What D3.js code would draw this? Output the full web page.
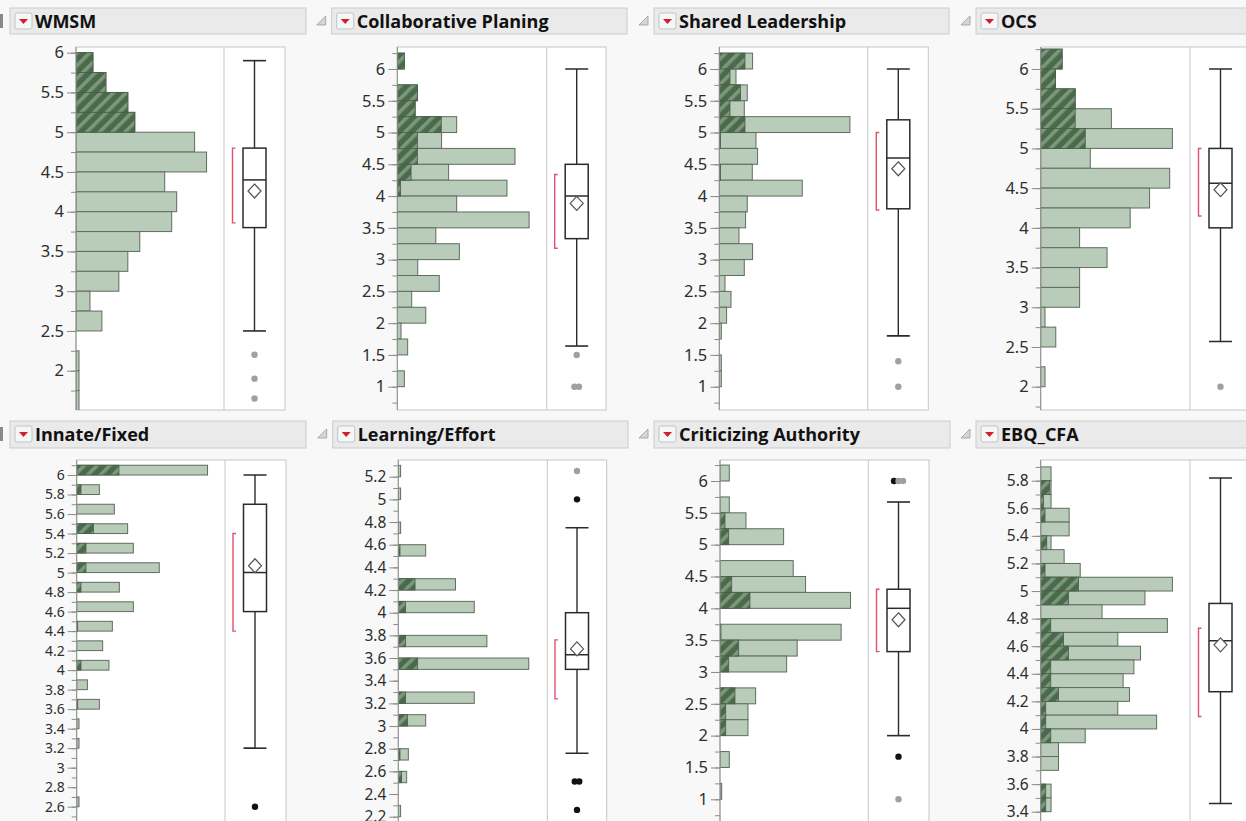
<!DOCTYPE html>
<html><head><meta charset="utf-8">
<script src="https://cdn.jsdelivr.net/npm/d3@7"></script>
<style>
html,body{margin:0;padding:0;background:#f8f8f8;}
svg{display:block}
</style></head><body>
<svg id="chart" width="1246" height="821"></svg>
<script>
// ---------------- DATA ----------------
const titles = ["WMSM", "Collaborative Planing", "Shared Leadership", "OCS",
                "Innate/Fixed", "Learning/Effort", "Criticizing Authority", "EBQ_CFA"];
const binWidths = [0.25, 0.25, 0.25, 0.25, 0.1, 0.1, 0.25, 0.1];

// WMSM
const wmsmBins = [5.75,5.5,5.25,5.0,4.75,4.5,4.25,4.0,3.75,3.5,3.25,3.0,2.75,2.5,2.25,2.0,1.75,1.5];
const wmsmCounts = [17,30,52,59,119,131,89,101,96,64,52,43,14,26,0,3,3,3];
const wmsmSelected = [17,30,52,59,0,0,0,0,0,0,0,0,0,0,0,0,0,0];
const wmsmBox = [2.5, 3.8, 4.4, 4.8, 5.9];
const wmsmMean = 4.26;
const wmsmShortest = [3.86, 4.8];
const wmsmOutliers = [2.2, 1.9, 1.65];
const wmsmOutlierSel = [0, 0, 0];
const wmsmTicks = [6,5.5,5,4.5,4,3.5,3,2.5,2];

// Collaborative Planing
const cpBins = [6.0,5.75,5.5,5.25,5.0,4.75,4.5,4.25,4.0,3.75,3.5,3.25,3.0,2.75,2.5,2.25,2.0,1.75,1.5,1.25,1.0];
const cpCounts = [7,0,20,17.7,59,44,117,51,109,59,131,38.3,61.7,20.3,41.7,14.3,28.3,3.7,10.3,0,7];
const cpSelected = [7,0,20,17.7,43.7,20,20,13.7,3.3,0,0,0,0,0,0,0,0,0,0,0,0];
const cpBox = [1.64, 3.33, 4.0, 4.5, 6.0];
const cpMean = 3.885;
const cpShortest = [3.18, 4.34];
const cpOutliers = [1.5, 1.0, 1.0];
const cpOutlierSel = [0, 0, 0];
const cpTicks = [6,5.5,5,4.5,4,3.5,3,2.5,2,1.5,1];

// Shared Leadership
const slBins = [6.0,5.75,5.5,5.25,5.0,4.75,4.5,4.25,4.0,3.75,3.5,3.25,3.0,2.75,2.5,2.25,2.0,1.75,1.5,1.25,1.0];
const slCounts = [33.3,16.7,28,25,130.7,36.7,38.3,33,83,28,26.3,19.7,33.3,25,5.7,11.7,7.3,2,0,2,2];
const slSelected = [25.7,10.7,21.3,10.7,25.7,1.3,0,1.3,0,0,0,0,0,0,0,0,0,0,0,0,0];
const slBox = [1.8, 3.8, 4.6, 5.2, 6.0];
const slMean = 4.43;
const slShortest = [3.78, 5.0];
const slOutliers = [1.4, 1.0];
const slOutlierSel = [0, 0];
const slTicks = [6,5.5,5,4.5,4,3.5,3,2.5,2,1.5,1];

// OCS
const ocsBins = [6.0,5.75,5.5,5.25,5.0,4.75,4.5,4.25,4.0,3.75,3.5,3.25,3.0,2.75,2.5,2.25,2.0];
const ocsCounts = [21.3,14.7,34.3,70.3,131,49.3,128.3,108.3,89,38.7,66,38.7,38.7,4.3,15,0,4.3];
const ocsSelected = [21.3,14.7,34.3,34.3,44.3,0,0,0,0,0,0,0,0,0,0,0,0];
const ocsBox = [2.57, 4.0, 4.56, 5.0, 6.0];
const ocsMean = 4.48;
const ocsShortest = [4.15, 5.0];
const ocsOutliers = [2.0];
const ocsOutlierSel = [0];
const ocsTicks = [6,5.5,5,4.5,4,3.5,3,2.5,2];

// Innate/Fixed
const ifBins = [6.0,5.8,5.6,5.4,5.2,5.0,4.8,4.6,4.4,4.2,4.0,3.8,3.6,3.4,3.2,2.6];
const ifCounts = [131,22.7,37.7,51,56.7,82.7,42.7,56.7,35.7,26,32.3,10.7,22.7,2.3,2.3,2.3];
const ifSelected = [42.3,4.3,0,16.7,9.3,9.3,4.3,0,1,0,4.3,0,1,0,0,0];
const ifBox = [3.2, 4.6, 5.0, 5.7, 6.0];
const ifMean = 5.07;
const ifShortest = [4.4, 5.4];
const ifOutliers = [2.6];
const ifOutlierSel = [1];
const ifTicks = [6,5.8,5.6,5.4,5.2,5,4.8,4.6,4.4,4.2,4,3.8,3.6,3.4,3.2,3,2.8,2.6];

// Learning/Effort
const leBins = [5.2,5.0,4.7,4.5,4.2,4.0,3.7,3.5,3.2,3.0,2.7,2.5,2.2];
const leCounts = [2.3,2.3,2.3,27.3,57,75.7,88.3,130,75.7,27.3,10,8.3,2.3];
const leSelected = [0,0,0,1.7,16.7,7.3,7.3,19.3,7.3,9.3,1.7,3.3,0];
const leBox = [2.76, 3.5, 3.63, 4.0, 4.75];
const leMean = 3.68;
const leShortest = [3.24, 3.76];
const leOutliers = [5.25, 5.0, 2.51, 2.51, 2.26];
const leOutlierSel = [0, 1, 1, 1, 1];
const leTicks = [5.2,5,4.8,4.6,4.4,4.2,4,3.8,3.6,3.4,3.2,3,2.8,2.6,2.4,2.2];

// Criticizing Authority
const caBins = [6.0,5.75,5.5,5.25,5.0,4.75,4.5,4.25,4.0,3.75,3.5,3.25,3.0,2.75,2.5,2.25,2.0,1.75,1.5,1.25,1.0];
const caCounts = [9.3,0,9.3,26,63.7,0,73.3,85.7,130.7,0,121.3,77.3,66.7,0,35.7,28,28,0,9.3,0,1.7];
const caSelected = [0,0,0,5,8.7,0,0,11.7,30,0,1,18.7,8.7,0,15,5.7,5.7,0,0,0,0];
const caBox = [2.0, 3.32, 4.0, 4.3, 5.67];
const caMean = 3.82;
const caShortest = [3.32, 4.3];
const caOutliers = [6.0, 6.0, 6.0, 1.67, 1.0];
const caOutlierSel = [1, 0, 0, 1, 0];
const caTicks = [6,5.5,5,4.5,4,3.5,3,2.5,2,1.5,1];

// EBQ_CFA
const ebqBins = [5.8,5.7,5.6,5.5,5.4,5.3,5.2,5.1,5.0,4.9,4.8,4.7,4.6,4.5,4.4,4.3,4.2,4.1,4.0,3.9,3.8,3.7,3.6,3.5,3.4];
const ebqCounts = [10.3,10.3,10.3,28.3,28.3,10.3,23.3,39.3,131,103.7,61,126,76.7,99.3,92.7,82,88.3,76.7,115.3,44.3,17.7,17.7,0,10.3,10.3];
const ebqSelected = [0,9,2.7,4.3,0,6,0,4.3,37.7,27.7,0,10,22.7,27.7,10,10,17.7,5,5,10,0,0,0,5,5];
const ebqBox = [3.46, 4.27, 4.64, 4.91, 5.82];
const ebqMean = 4.61;
const ebqShortest = [4.09, 4.73];
const ebqOutliers = [];
const ebqOutlierSel = [];
const ebqTicks = [5.8,5.6,5.4,5.2,5,4.8,4.6,4.4,4.2,4,3.8,3.6,3.4];

const countMax = 148.5;

// ---------------- LAYOUT ----------------
const rows = [
  {titleY: 8, titleH: 26, top: 47, bottom: 410},
  {titleY: 421, titleH: 27, top: 460, bottom: 840}
];
const layouts = [
  {row:0, axisX:76,    sepX:224,   rightX:285,  boxX:254.5,  tX0:10,    tX1:306,  disc:false, yA:[6,52.7],  yB:[2,370.7], minor:0.25, fs:16.5},
  {row:0, axisX:397.3, sepX:546.7, rightX:606,  boxX:576.7,  tX0:331.7, tX1:627,  disc:true,  yA:[6,69],    yB:[1,386.7], minor:0.25, fs:16.5},
  {row:0, axisX:719.3, sepX:867.7, rightX:928.3,boxX:898.3,  tX0:654,   tX1:949,  disc:true,  yA:[6,69],    yB:[1,386.7], minor:0.25, fs:16.5},
  {row:0, axisX:1040.7,sepX:1190,  rightX:1252, boxX:1220.5, tX0:976,   tX1:1252, disc:true,  yA:[6,69],    yB:[2,386.7], minor:0.25, fs:16.5},
  {row:1, axisX:76.7,  sepX:225,   rightX:286,  boxX:255,    tX0:10,    tX1:306,  disc:false, yA:[6,475],   yB:[2.6,806.7], minor:0.1, fs:14},
  {row:1, axisX:398.3, sepX:547.3, rightX:606.7,boxX:577,    tX0:332.7, tX1:628,  disc:true,  yA:[5.2,476.7], yB:[2.2,816.7], minor:0.1, fs:15.5},
  {row:1, axisX:720,   sepX:868.3, rightX:929,  boxX:898.5,  tX0:654,   tX1:950,  disc:true,  yA:[6,481],   yB:[1,799.3], minor:0.25, fs:16.5},
  {row:1, axisX:1040.7,sepX:1190,  rightX:1252, boxX:1220.5, tX0:976,   tX1:1252, disc:true,  yA:[5.8,480.7], yB:[3.4,811.7], minor:0.1, fs:15.5}
];

const panels = [
  {bins:wmsmBins, counts:wmsmCounts, sel:wmsmSelected, box:wmsmBox, mean:wmsmMean, sh:wmsmShortest, out:wmsmOutliers, outSel:wmsmOutlierSel, ticks:wmsmTicks},
  {bins:cpBins, counts:cpCounts, sel:cpSelected, box:cpBox, mean:cpMean, sh:cpShortest, out:cpOutliers, outSel:cpOutlierSel, ticks:cpTicks},
  {bins:slBins, counts:slCounts, sel:slSelected, box:slBox, mean:slMean, sh:slShortest, out:slOutliers, outSel:slOutlierSel, ticks:slTicks},
  {bins:ocsBins, counts:ocsCounts, sel:ocsSelected, box:ocsBox, mean:ocsMean, sh:ocsShortest, out:ocsOutliers, outSel:ocsOutlierSel, ticks:ocsTicks},
  {bins:ifBins, counts:ifCounts, sel:ifSelected, box:ifBox, mean:ifMean, sh:ifShortest, out:ifOutliers, outSel:ifOutlierSel, ticks:ifTicks},
  {bins:leBins, counts:leCounts, sel:leSelected, box:leBox, mean:leMean, sh:leShortest, out:leOutliers, outSel:leOutlierSel, ticks:leTicks},
  {bins:caBins, counts:caCounts, sel:caSelected, box:caBox, mean:caMean, sh:caShortest, out:caOutliers, outSel:caOutlierSel, ticks:caTicks},
  {bins:ebqBins, counts:ebqCounts, sel:ebqSelected, box:ebqBox, mean:ebqMean, sh:ebqShortest, out:ebqOutliers, outSel:ebqOutlierSel, ticks:ebqTicks}
];

// ---------------- DRAW ----------------
const svg = d3.select("#chart");
const defs = svg.append("defs");
const pat = defs.append("pattern").attr("id", "hatch")
  .attr("patternUnits", "userSpaceOnUse").attr("width", 9).attr("height", 9)
  .attr("patternTransform", "rotate(45)");
pat.append("rect").attr("width", 9).attr("height", 9).attr("fill", "#4b6a4b");
pat.append("rect").attr("width", 3.6).attr("height", 9).attr("fill", "#7b987b");

const LIGHT = "#b9cbb9", BAR_STROKE = "#5f6d5f";

panels.forEach((p, i) => {
  const L = layouts[i], R = rows[L.row];
  const g = svg.append("g");

  // header bar
  if (!L.disc) {
    g.append("rect").attr("x", 0).attr("y", R.titleY + 6).attr("width", 3).attr("height", 14).attr("fill", "#8a8a8a");
  } else {
    const dx = L.tX0 - 15, dy = R.titleY + 8;
    g.append("path").attr("d", `M${dx+9},${dy} L${dx+9},${dy+9} L${dx},${dy+9} Z`)
      .attr("fill", "#d6d6d6").attr("stroke", "#9a9a9a").attr("stroke-width", 0.8);
  }
  g.append("rect").attr("x", L.tX0).attr("y", R.titleY).attr("width", L.tX1 - L.tX0).attr("height", R.titleH)
    .attr("fill", "#eaeaea").attr("stroke", "#cbcbcb");
  const ix = L.tX0 + 5, iy = R.titleY + 5;
  g.append("rect").attr("x", ix).attr("y", iy).attr("width", 17).attr("height", 16).attr("rx", 2)
    .attr("fill", "#f6f6f6").attr("stroke", "#b9c6cf");
  g.append("path").attr("d", `M${ix+4},${iy+6} L${ix+13},${iy+6} L${ix+8.5},${iy+11} Z`).attr("fill", "#d1202b");
  g.append("text").attr("x", L.tX0 + 25).attr("y", R.titleY + R.titleH / 2 + 6.5)
    .attr("font-family", "'Open Sans', 'Noto Sans', sans-serif").attr("font-weight", 700)
    .attr("font-size", 18).attr("fill", "#111").text(titles[i]);

  // frame
  const clipId = "clip" + i;
  defs.append("clipPath").attr("id", clipId).append("rect")
    .attr("x", L.axisX).attr("y", R.top).attr("width", L.rightX - L.axisX).attr("height", R.bottom - R.top);
  g.append("rect").attr("x", L.axisX).attr("y", R.top).attr("width", L.rightX - L.axisX).attr("height", R.bottom - R.top)
    .attr("fill", "#fff").attr("stroke", "#c6c6c6");

  const y = d3.scaleLinear().domain([L.yA[0], L.yB[0]]).range([L.yA[1], L.yB[1]]);
  const x = d3.scaleLinear().domain([0, countMax]).range([0, L.sepX - L.axisX]);
  const w = binWidths[i];

  const plot = g.append("g").attr("clip-path", `url(#${clipId})`);
  const binData = p.bins.map((b, k) => ({b, c: p.counts[k], s: p.sel[k]}));
  plot.selectAll("rect.bar").data(binData.filter(d => d.c > 0)).join("rect").attr("class", "bar")
    .attr("x", L.axisX).attr("y", d => y(d.b + w)).attr("height", d => y(d.b) - y(d.b + w))
    .attr("width", d => x(d.c)).attr("fill", LIGHT).attr("stroke", BAR_STROKE).attr("stroke-width", 1);
  plot.selectAll("rect.sel").data(binData.filter(d => d.s > 0)).join("rect").attr("class", "sel")
    .attr("x", L.axisX).attr("y", d => y(d.b + w)).attr("height", d => y(d.b) - y(d.b + w))
    .attr("width", d => x(d.s)).attr("fill", "url(#hatch)").attr("stroke", "#4a5c4a").attr("stroke-width", 0.8);

  // separator
  g.append("line").attr("x1", L.sepX).attr("x2", L.sepX).attr("y1", R.top).attr("y2", R.bottom).attr("stroke", "#c6c6c6");

  // axis
  const lo = y.invert(R.bottom), hi = y.invert(R.top);
  const minorTicks = d3.range(Math.ceil(lo / L.minor - 1e-6), Math.floor(hi / L.minor + 1e-6) + 1).map(k => +(k * L.minor).toFixed(3));
  const axMinor = g.append("g").attr("transform", `translate(${L.axisX},0)`)
    .call(d3.axisLeft(y).tickValues(minorTicks).tickSize(5).tickFormat(""));
  axMinor.select(".domain").remove();
  axMinor.selectAll("line").attr("stroke", "#8c8c8c");
  const ax = g.append("g").attr("transform", `translate(${L.axisX},0)`)
    .call(d3.axisLeft(y).tickValues(p.ticks).tickSize(9).tickPadding(3).tickFormat(d => d3.format("")(+d.toFixed(2))));
  ax.select(".domain").remove();
  ax.selectAll("line").attr("stroke", "#8c8c8c");
  ax.selectAll("text").attr("font-family", "'Noto Sans', 'Open Sans', sans-serif").attr("font-size", L.fs).attr("fill", "#2e2e2e");
  g.append("line").attr("x1", L.axisX).attr("x2", L.axisX).attr("y1", R.top).attr("y2", R.bottom).attr("stroke", "#8c8c8c");

  // box plot
  const bx = plot.append("g");
  const cx = L.boxX, hw = 11.5;
  const [wLo, q1, med, q3, wHi] = p.box;
  bx.append("line").attr("x1", cx).attr("x2", cx).attr("y1", y(wHi)).attr("y2", y(wLo)).attr("stroke", "#2b2b2b").attr("stroke-width", 1.4);
  [wLo, wHi].forEach(v => bx.append("line").attr("x1", cx - hw).attr("x2", cx + hw).attr("y1", y(v)).attr("y2", y(v))
    .attr("stroke", "#2b2b2b").attr("stroke-width", 1.6));
  bx.append("rect").attr("x", cx - hw).attr("y", y(q3)).attr("width", 2 * hw).attr("height", y(q1) - y(q3))
    .attr("fill", "#fff").attr("stroke", "#2b2b2b").attr("stroke-width", 1.5);
  bx.append("line").attr("x1", cx - hw).attr("x2", cx + hw).attr("y1", y(med)).attr("y2", y(med)).attr("stroke", "#2b2b2b").attr("stroke-width", 1.5);
  const my = y(p.mean);
  bx.append("path").attr("d", `M${cx},${my-7} L${cx+6.5},${my} L${cx},${my+7} L${cx-6.5},${my} Z`)
    .attr("fill", "#fff").attr("stroke", "#555").attr("stroke-width", 1.2);
  const brx = cx - 22;
  bx.append("path").attr("d", `M${brx+3},${y(p.sh[1])} L${brx},${y(p.sh[1])} L${brx},${y(p.sh[0])} L${brx+3},${y(p.sh[0])}`)
    .attr("fill", "none").attr("stroke", "#e0506e").attr("stroke-width", 1.4);

  // outliers (duplicates spread side by side)
  const counts = {};
  const outData = p.out.map((v, k) => {
    const key = v.toFixed(3);
    counts[key] = (counts[key] || 0) + 1;
    return {v, sel: p.outSel[k], idx: counts[key] - 1, key};
  });
  outData.forEach(d => d.n = counts[d.key]);
  bx.selectAll("circle.out").data(outData).join("circle").attr("class", "out")
    .attr("cx", d => cx + (d.idx - (d.n - 1) / 2) * 4.5).attr("cy", d => y(d.v)).attr("r", 3.2)
    .attr("fill", d => d.sel ? "#111" : "#a0a0a0");
});
</script>
</body></html>
